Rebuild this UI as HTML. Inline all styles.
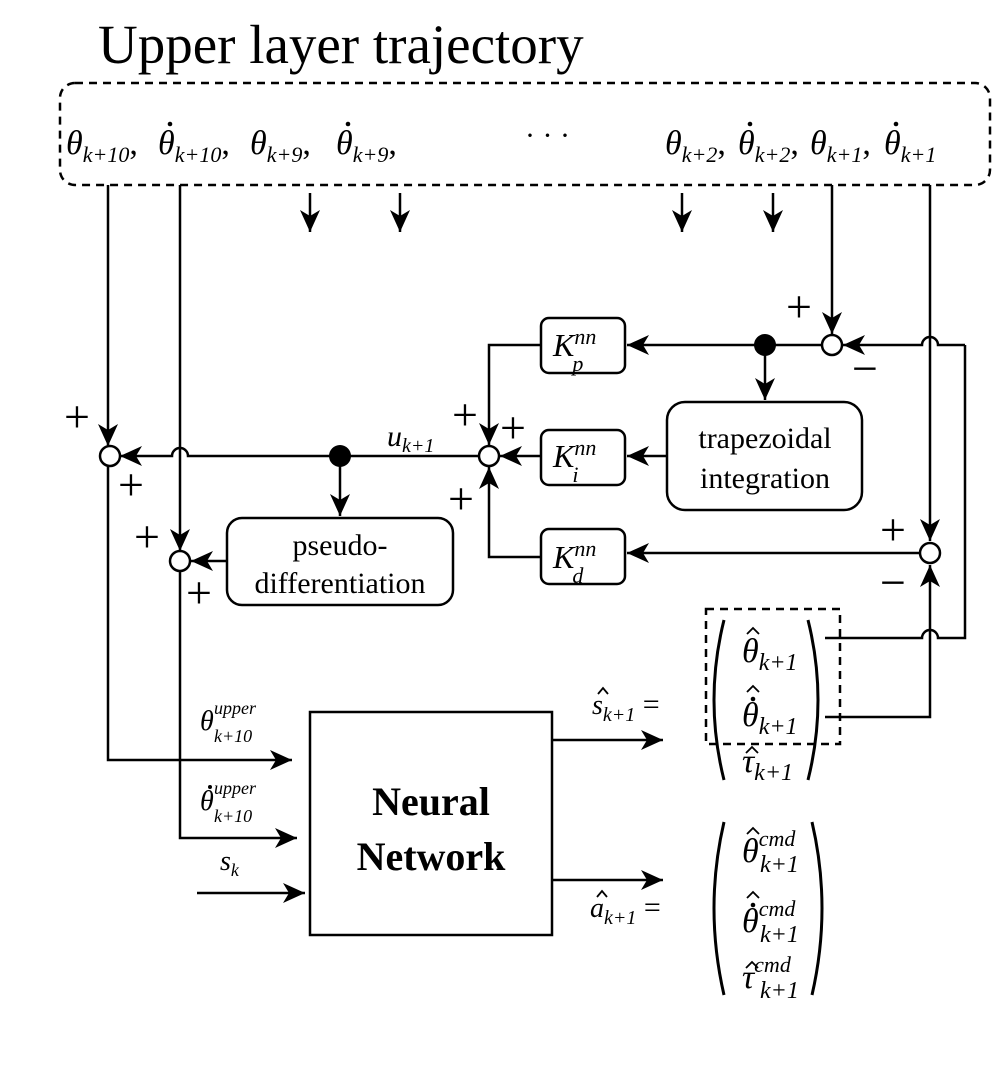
<!DOCTYPE html>
<html><head><style>body{margin:0;background:#fff}svg{display:block}</style></head><body>
<svg width="997" height="1074" viewBox="0 0 997 1074" xmlns="http://www.w3.org/2000/svg" font-family="'Liberation Serif',serif">
<defs>
<marker id="a" markerWidth="24" markerHeight="20" refX="22" refY="10" orient="auto" markerUnits="userSpaceOnUse">
<path d="M0,0 L22,10 L0,20 L6,10 Z" fill="#000"/>
</marker>
</defs>
<rect width="997" height="1074" fill="#fff"/>
<text x="98" y="63" font-size="55">Upper layer trajectory</text>
<rect x="60" y="83" width="930" height="102" rx="15" fill="none" stroke="#000" stroke-width="2.5" stroke-dasharray="8,6"/>
<g font-size="34" font-style="italic">
<text x="66" y="154">θ<tspan font-size="22" dy="8">k+10</tspan><tspan dy="-8" font-style="normal">,</tspan></text>
<text x="158" y="154">θ<tspan font-size="22" dy="8">k+10</tspan><tspan dy="-8" font-style="normal">,</tspan></text>
<text x="250" y="154">θ<tspan font-size="22" dy="8">k+9</tspan><tspan dy="-8" font-style="normal">,</tspan></text>
<text x="336" y="154">θ<tspan font-size="22" dy="8">k+9</tspan><tspan dy="-8" font-style="normal">,</tspan></text>
<text x="665" y="154">θ<tspan font-size="22" dy="8">k+2</tspan><tspan dy="-8" font-style="normal">,</tspan></text>
<text x="738" y="154">θ<tspan font-size="22" dy="8">k+2</tspan><tspan dy="-8" font-style="normal">,</tspan></text>
<text x="810" y="154">θ<tspan font-size="22" dy="8">k+1</tspan><tspan dy="-8" font-style="normal">,</tspan></text>
<text x="884" y="154">θ<tspan font-size="22" dy="8">k+1</tspan></text>
</g>
<g fill="#000"><circle cx="170" cy="124" r="2.3"/><circle cx="348" cy="124" r="2.3"/><circle cx="750" cy="124" r="2.3"/><circle cx="896" cy="124" r="2.3"/></g>
<text x="525" y="145" font-size="30">· · ·</text>
<g stroke="#000" stroke-width="2.5" fill="none">
<line x1="310" y1="193" x2="310" y2="232" marker-end="url(#a)"/>
<line x1="400" y1="193" x2="400" y2="232" marker-end="url(#a)"/>
<line x1="682" y1="193" x2="682" y2="232" marker-end="url(#a)"/>
<line x1="773" y1="193" x2="773" y2="232" marker-end="url(#a)"/>
<line x1="108" y1="185" x2="108" y2="446" marker-end="url(#a)"/>
<path d="M108,466 V760 H292" marker-end="url(#a)"/>
<line x1="180" y1="185" x2="180" y2="551" marker-end="url(#a)"/>
<path d="M180,571 V838 H297" marker-end="url(#a)"/>
<line x1="197" y1="893" x2="305" y2="893" marker-end="url(#a)"/>
<path d="M480,456 H188 A8,8 0 0 0 172,456 H120" marker-end="url(#a)"/>
<line x1="340" y1="456" x2="340" y2="516" marker-end="url(#a)"/>
<line x1="227" y1="561" x2="191" y2="561" marker-end="url(#a)"/>
<line x1="832" y1="185" x2="832" y2="334" marker-end="url(#a)"/>
<path d="M965,345 V638 H938 A8,8 0 0 0 922,638 H825"/>
<path d="M965,345 H938 A8,8 0 0 0 922,345 H843" marker-end="url(#a)"/>
<line x1="930" y1="185" x2="930" y2="541" marker-end="url(#a)"/>
<path d="M825,717 H930 V565" marker-end="url(#a)"/>
<line x1="823" y1="345" x2="627" y2="345" marker-end="url(#a)"/>
<line x1="765" y1="345" x2="765" y2="400" marker-end="url(#a)"/>
<line x1="667" y1="456" x2="627" y2="456" marker-end="url(#a)"/>
<line x1="920" y1="553" x2="627" y2="553" marker-end="url(#a)"/>
<path d="M541,345 H489 V445" marker-end="url(#a)"/>
<path d="M541,557 H489 V467" marker-end="url(#a)"/>
<line x1="541" y1="456" x2="500" y2="456" marker-end="url(#a)"/>
<line x1="552" y1="740" x2="663" y2="740" marker-end="url(#a)"/>
<line x1="552" y1="880" x2="663" y2="880" marker-end="url(#a)"/>
<rect x="541" y="318" width="84" height="55" rx="8"/>
<rect x="541" y="430" width="84" height="55" rx="8"/>
<rect x="541" y="529" width="84" height="55" rx="8"/>
<rect x="667" y="402" width="195" height="108" rx="18"/>
<rect x="227" y="518" width="226" height="87" rx="15"/>
<rect x="310" y="712" width="242" height="223"/>
<rect x="706" y="609" width="134" height="135" stroke-dasharray="8,6"/>
</g>
<g stroke="#000" stroke-width="2.5" fill="#fff">
<circle cx="110" cy="456" r="10"/>
<circle cx="180" cy="561" r="10"/>
<circle cx="489" cy="456" r="10"/>
<circle cx="832" cy="345" r="10"/>
<circle cx="930" cy="553" r="10"/>
</g>
<circle cx="340" cy="456" r="11" fill="#000"/>
<circle cx="765" cy="345" r="11" fill="#000"/>
<g font-size="46">
<text x="64" y="432">+</text><text x="118" y="500">+</text>
<text x="134" y="552">+</text><text x="186" y="608">+</text>
<text x="452" y="430">+</text><text x="500" y="443">+</text><text x="448" y="514">+</text>
<text x="786" y="322">+</text><text x="852" y="384">−</text>
<text x="880" y="545">+</text><text x="880" y="598">−</text>
</g>
<text x="387" y="446" font-size="30" font-style="italic">u<tspan font-size="20" dy="6">k+1</tspan></text>
<g font-size="32" font-style="italic">
<text x="553" y="356">K<tspan font-size="22" dy="-12">nn</tspan><tspan font-size="22" dx="-24" dy="27">p</tspan></text>
<text x="553" y="467">K<tspan font-size="22" dy="-12">nn</tspan><tspan font-size="22" dx="-24" dy="27">i</tspan></text>
<text x="553" y="568">K<tspan font-size="22" dy="-12">nn</tspan><tspan font-size="22" dx="-24" dy="27">d</tspan></text>
</g>
<g font-size="30" text-anchor="middle">
<text x="765" y="448">trapezoidal</text><text x="765" y="488">integration</text>
<text x="340" y="555">pseudo-</text><text x="340" y="593">differentiation</text>
</g>
<g font-size="40" font-weight="bold" text-anchor="middle">
<text x="431" y="815">Neural</text><text x="431" y="870">Network</text>
</g>
<g font-style="italic">
<text x="200" y="730" font-size="28">θ</text><text x="214" y="714" font-size="18">upper</text><text x="214" y="742" font-size="18">k+10</text>
<text x="200" y="810" font-size="28">θ</text><text x="214" y="794" font-size="18">upper</text><text x="214" y="822" font-size="18">k+10</text>
<circle cx="210" cy="787" r="2" fill="#000"/>
<text x="220" y="870" font-size="28">s<tspan font-size="18" dy="6">k</tspan></text>
<text x="592" y="714" font-size="28">s<tspan font-size="20" dy="7">k+1</tspan><tspan font-style="normal" font-size="30" dy="-7"> =</tspan></text>
<text x="590" y="917" font-size="28">a<tspan font-size="20" dy="7">k+1</tspan><tspan font-style="normal" font-size="30" dy="-7"> =</tspan></text>
</g>
<g font-style="italic" font-size="34">
<text x="742" y="662">θ<tspan font-size="24" dy="8">k+1</tspan></text>
<text x="742" y="726">θ<tspan font-size="24" dy="8">k+1</tspan></text>
<text x="742" y="772">τ<tspan font-size="24" dy="8">k+1</tspan></text>
<text x="742" y="862">θ<tspan font-size="22" dy="-16">cmd</tspan></text><text x="760" y="872" font-size="24">k+1</text>
<text x="742" y="932">θ<tspan font-size="22" dy="-16">cmd</tspan></text><text x="760" y="942" font-size="24">k+1</text>
<text x="742" y="988">τ<tspan font-size="22" dy="-16">cmd</tspan></text><text x="760" y="998" font-size="24">k+1</text>
</g>
<g stroke="#000" stroke-width="1.8" fill="none">
<path d="M747,634 L753,628 L759,634"/>
<path d="M747,692 L753,686 L759,692"/>
<path d="M746,753 L752,747 L758,753"/>
<path d="M747,834 L753,828 L759,834"/>
<path d="M747,898 L753,892 L759,898"/>
<path d="M746,968 L752,962 L758,968"/>
<path d="M598,694 L603,688 L608,694"/>
<path d="M597,897 L602,891 L607,897"/>
</g>
<g fill="#000"><circle cx="753" cy="699" r="2.3"/><circle cx="753" cy="905" r="2.3"/></g>
<g stroke="#000" stroke-width="3" fill="none">
<path d="M724,620 Q704,700 724,780"/><path d="M808,620 Q828,700 808,780"/>
<path d="M724,822 Q704,908 724,995"/><path d="M812,822 Q832,908 812,995"/>
</g>
</svg>
</body></html>
